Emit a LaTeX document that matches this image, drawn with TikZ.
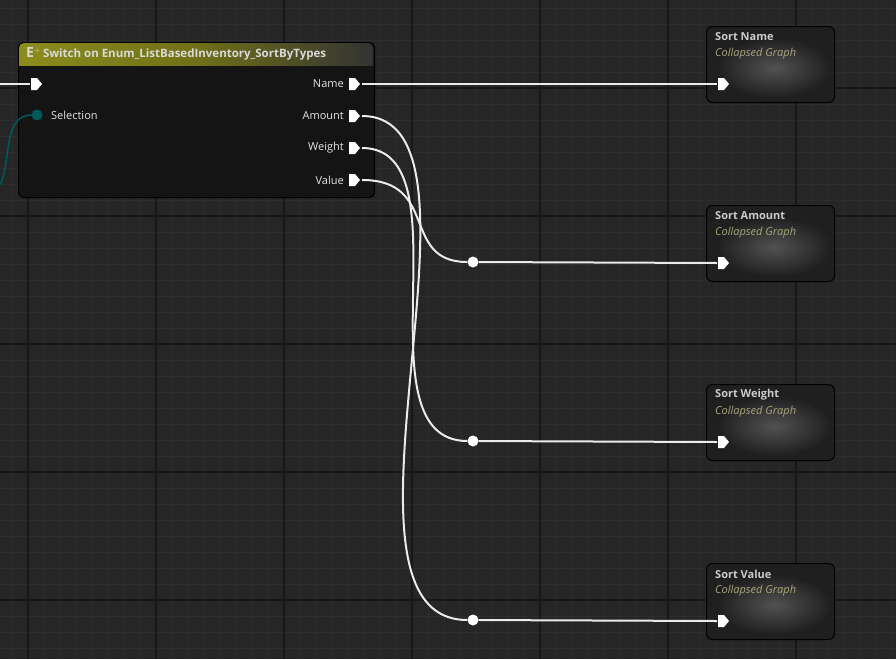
\documentclass[tikz,border=0pt]{standalone}
\usepackage{fontspec}
\setmainfont{Open Sans}
\definecolor{bg}{HTML}{262626}
\definecolor{minor}{HTML}{2D2D2D}
\definecolor{major}{HTML}{171717}
\definecolor{hdr}{HTML}{8C8C1E}
\begin{document}
\begin{tikzpicture}[x=1pt,y=-1pt,
  wire/.style={draw=white!92!black,line width=2pt},
  knot/.style={circle,fill=white,inner sep=0pt,minimum size=11pt},
  cgraph/.style={draw=black,line width=1pt,rounded corners=6pt,fill=black!88!white,minimum width=128pt,minimum height=76pt,inner sep=0pt},
  pinlbl/.style={font=\fontsize{11pt}{13pt}\selectfont,text=white!90!black,inner sep=1pt}]
\useasboundingbox (0,0) rectangle (896,659);
\fill[bg] (0,0) rectangle (896,659);
\foreach \x in {12,28,...,896} \draw[minor,line width=1pt] (\x,0)--(\x,659);
\foreach \y in {8,24,...,659} \draw[minor,line width=1pt] (0,\y)--(896,\y);
\foreach \x in {28,156,...,896} \draw[major,line width=1.5pt] (\x,0)--(\x,659);
\foreach \y in {88,216,...,659} \draw[major,line width=1.5pt] (0,\y)--(896,\y);
% switch node
\node[draw=black,line width=1pt,rounded corners=5pt,fill=black!92!white,minimum width=356pt,minimum height=155pt,inner sep=0pt,anchor=north west] (sw) at (18,42) {};
\begin{scope}
\clip[rounded corners=5pt] (19,43) rectangle (373,196);
\shade[left color=hdr,right color=black!80!white,middle color=hdr!80!black] (19,43) rectangle (373,65);
\end{scope}
\node[anchor=west,font=\bfseries\fontsize{11.5pt}{13pt}\selectfont,text=white!85!black,inner sep=0pt] (sw title) at (26,54) {\fontsize{14pt}{14pt}\selectfont E$^{\scriptscriptstyle +}$\,\fontsize{11.5pt}{13pt}\selectfont Switch on Enum\_ListBasedInventory\_SortByTypes};
% incoming wires
\coordinate (lin) at (0,84);
\draw[wire] (lin) -- (30,84);
\draw[teal!70!black,line width=1.5pt] (0,185) .. controls (12,160) and (2,115) .. (32,115);
\fill[white] (31,78) -- (37,78) -- (42,84) -- (37,90) -- (31,90) -- cycle;
\fill[teal!70!black] (37,115) circle (5.5pt);
\node[pinlbl,anchor=west] (sel) at (50,115) {Selection};
\foreach \n/\y in {Name/84,Amount/116,Weight/148,Value/180}{
  \fill[white] (349,\y-6) -- (355,\y-6) -- (360,\y) -- (355,\y+6) -- (349,\y+6) -- cycle;
  \node[pinlbl,anchor=east] (l\n) at (345,\y) {\n};
  \coordinate (o\n) at (362,\y);
}
% collapsed graph nodes
\foreach \n/\t/\y in {cn/Name/26,ca/Amount/205,cw/Weight/384,cv/Value/563}{
  \node[cgraph,anchor=north west] (\n) at (706,\y) {};
  \shade[inner color=black!68!white,outer color=black!88!white] (716,\y+12) rectangle (832,\y+72);
  \node[anchor=west,font=\bfseries\fontsize{11pt}{12pt}\selectfont,text=white!80!black,inner sep=0pt] at (715,\y+11) {Sort \t};
  \node[anchor=west,font=\itshape\fontsize{11pt}{12pt}\selectfont,text=olive!35!white!75!black,inner sep=0pt] at (715,\y+28) {Collapsed Graph};
  \fill[white] (718,\y+52) -- (724,\y+52) -- (729,\y+58) -- (724,\y+64) -- (718,\y+64) -- cycle;
  \coordinate (i\n) at (717,\y+58);
}
% knots
\node[knot] (ka) at (473,262) {};
\node[knot] (kw) at (473,441) {};
\node[knot] (kv) at (473,620) {};
% wires
\draw[wire] (oName) -- (icn);
\draw[wire] (oValue) .. controls (440,180) and (400,262) .. (ka);
\draw[wire] (oWeight) .. controls (470,148) and (355,441) .. (kw);
\draw[wire] (oAmount) .. controls (510,116) and (310,620) .. (kv);
\draw[wire] (ka) -- (ica);
\draw[wire] (kw) -- (icw);
\draw[wire] (kv) -- (icv);
\end{tikzpicture}
\end{document}
